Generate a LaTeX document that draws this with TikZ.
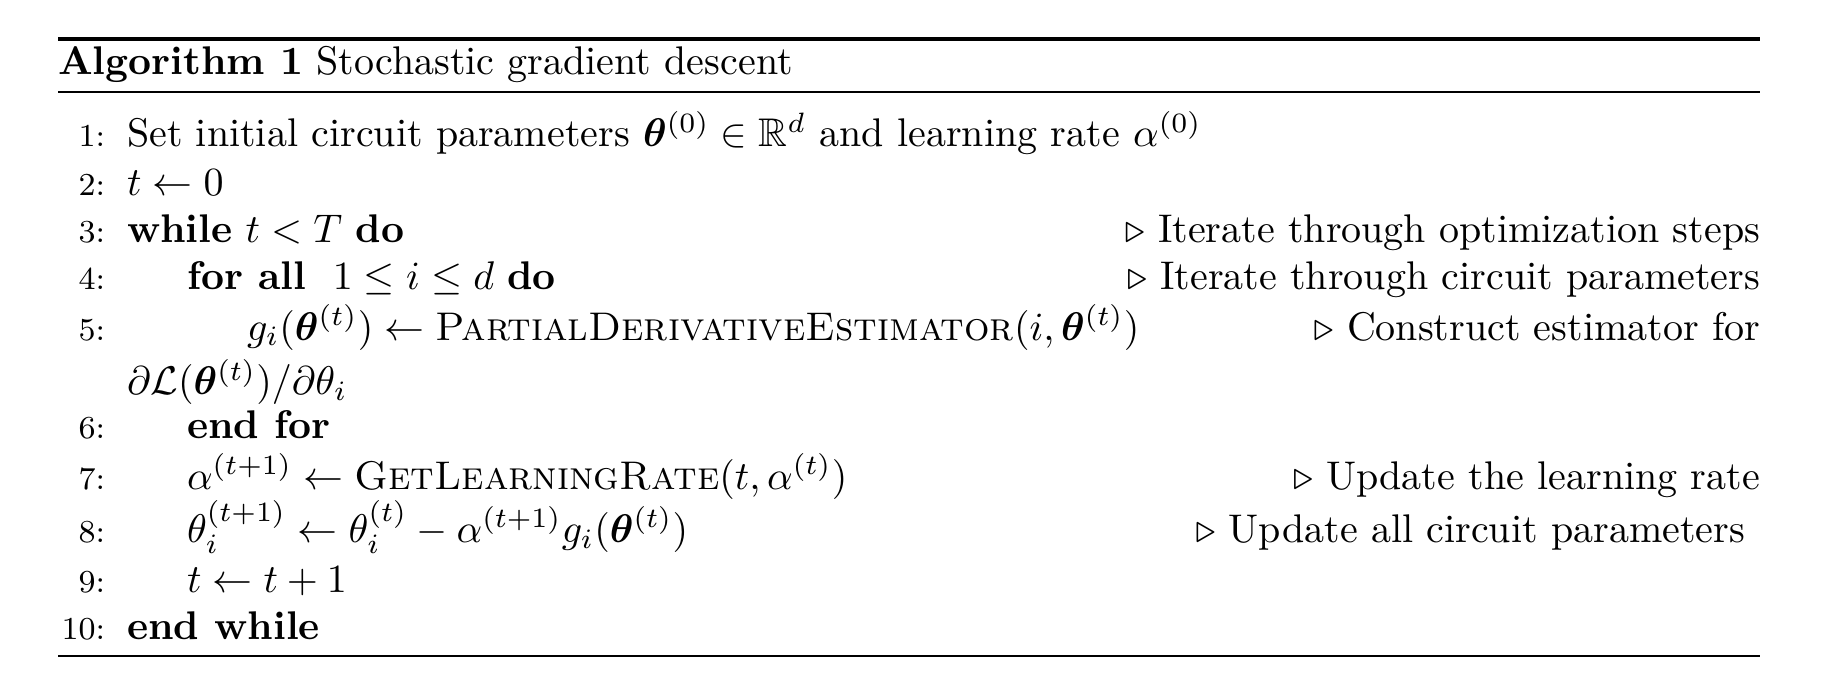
\documentclass[tikz,border=0pt]{standalone}
\usepackage{amsmath,amssymb,bm}
\begin{document}
\begin{tikzpicture}[x=1pt,y=1pt,
  txt/.style={anchor=base west,inner sep=0pt,outer sep=0pt,font=\normalsize},
  num/.style={anchor=base east,inner sep=0pt,outer sep=0pt,font=\footnotesize},
  cmt/.style={anchor=base east,inner sep=0pt,outer sep=0pt,font=\normalsize}]
\useasboundingbox (0,0) rectangle (458,-171);
\def\tri{$\triangleright$\ }
% rules
\coordinate (r1l) at (14.5,-9.75); \coordinate (r1r) at (440,-9.75);
\coordinate (r2l) at (14.5,-23); \coordinate (r2r) at (440,-23);
\coordinate (r3l) at (14.5,-164); \coordinate (r3r) at (440,-164);
\draw[line width=0.8pt] (r1l) -- (r1r);
\draw[line width=0.4pt] (r2l) -- (r2r);
\draw[line width=0.4pt] (r3l) -- (r3r);
% title
\node[txt] (title) at (14.5,-18.75) {\textbf{Algorithm 1} Stochastic gradient descent};
% line numbers
\node[num] (n1) at (26.25,-36.75) {1:};
\node[num] (n2) at (26.25,-48.75) {2:};
\node[num] (n3) at (26.25,-60.75) {3:};
\node[num] (n4) at (26.25,-72.5) {4:};
\node[num] (n5) at (26.25,-85) {5:};
\node[num] (n6) at (26.25,-109.75) {6:};
\node[num] (n7) at (26.25,-122.25) {7:};
\node[num] (n8) at (26.25,-135.5) {8:};
\node[num] (n9) at (26.25,-148) {9:};
\node[num] (n10) at (26.25,-159.75) {10:};
% statements
\node[txt] (l1) at (31.75,-36.75) {Set initial circuit parameters $\bm{\theta}^{(0)} \in \mathbb{R}^d$ and learning rate $\alpha^{(0)}$};
\node[txt] (l2) at (31.75,-48.75) {$t \leftarrow 0$};
\node[txt] (l3) at (31.75,-60.75) {\textbf{while} $t < T$ \textbf{do}};
\node[txt] (l4) at (46.75,-72.5) {\textbf{for all} \ $1 \leq i \leq d$ \textbf{do}};
\node[txt] (l5) at (61.75,-85) {$g_i(\bm{\theta}^{(t)}) \leftarrow \textsc{PartialDerivativeEstimator}(i, \bm{\theta}^{(t)})$};
\node[txt] (l5b) at (31.75,-98.75) {$\partial\mathcal{L}(\bm{\theta}^{(t)})/\partial\theta_i$};
\node[txt] (l6) at (46.75,-109.75) {\textbf{end for}};
\node[txt] (l7) at (46.75,-122.25) {$\alpha^{(t+1)} \leftarrow \textsc{GetLearningRate}(t, \alpha^{(t)})$};
\node[txt] (l8) at (46.75,-135.5) {$\theta_i^{(t+1)} \leftarrow \theta_i^{(t)} - \alpha^{(t+1)} g_i(\bm{\theta}^{(t)})$};
\node[txt] (l9) at (46.75,-148) {$t \leftarrow t+1$};
\node[txt] (l10) at (31.75,-159.75) {\textbf{end while}};
% comments
\node[cmt] (c3) at (440,-60.75) {\tri Iterate through optimization steps};
\node[cmt] (c4) at (440,-72.5) {\tri Iterate through circuit parameters};
\node[cmt] (c5) at (440,-85) {\tri Construct estimator for};
\node[cmt] (c7) at (440,-122.25) {\tri Update the learning rate};
\node[cmt] (c8) at (436.25,-135.5) {\tri Update all circuit parameters};
\end{tikzpicture}
\end{document}
